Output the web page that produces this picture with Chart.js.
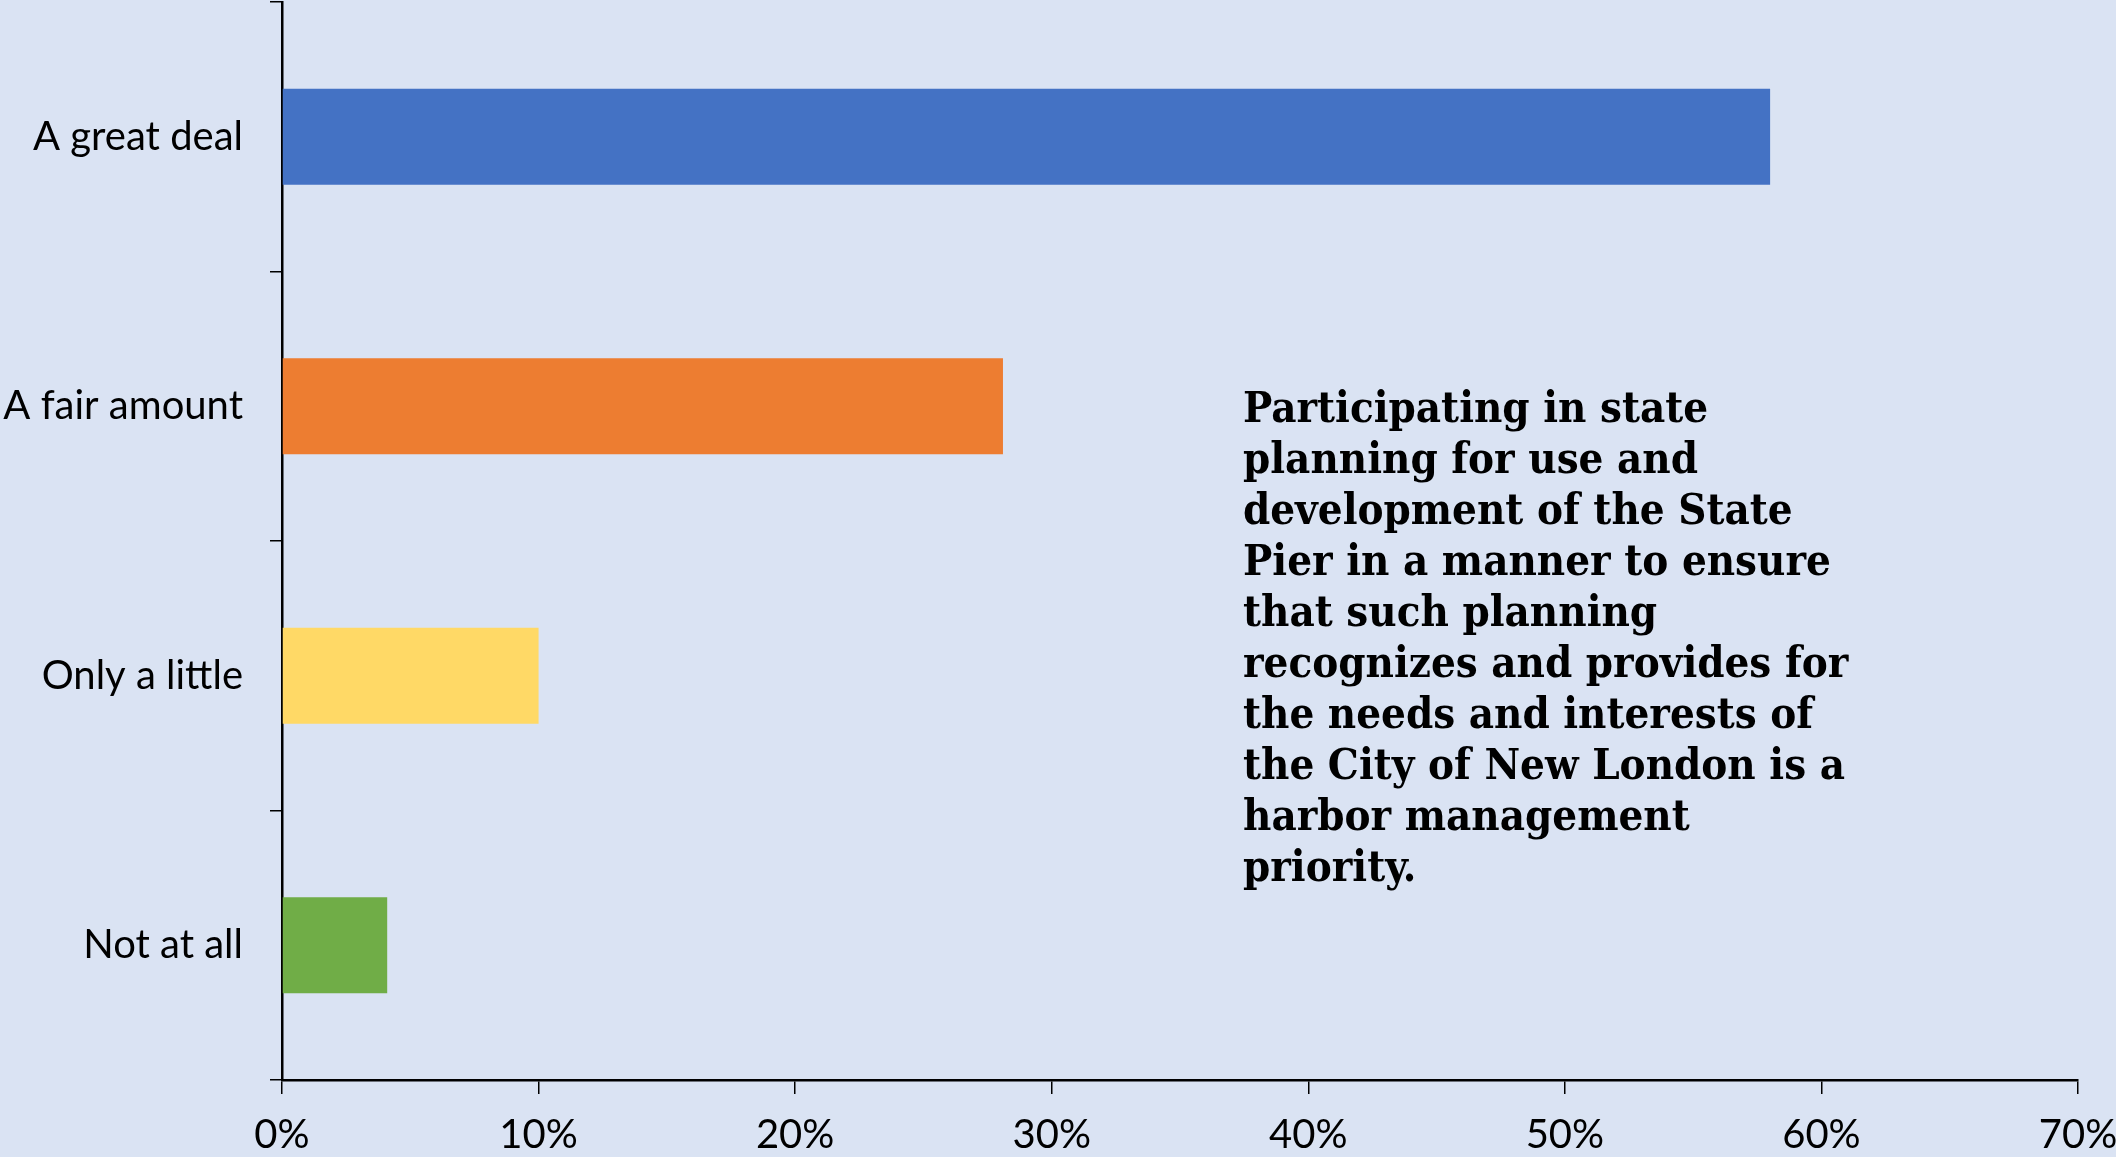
<!DOCTYPE html>
<html>
<head>
<meta charset="utf-8">
<title>Harbor management priority</title>
<script src="https://cdn.jsdelivr.net/npm/chart.js@4/dist/chart.umd.min.js"></script>
<style>
  html, body { margin: 0; padding: 0; background: #DAE3F3; }
  #chart { display: block; }
</style>
</head>
<body>
<canvas id="chart" width="2116" height="1157"></canvas>
<script>
// Survey answers and share of respondents (%)
const categories = ['A great deal', 'A fair amount', 'Only a little', 'Not at all'];
const shares = [58.0, 28.1, 10.0, 4.1];
const barColors = ['#4472C4', '#ED7D31', '#FFD966', '#70AD47'];
const xTicks = [0, 10, 20, 30, 40, 50, 60, 70];

const noteLines = [
    'Participating in state',
    'planning for use and',
    'development of the State',
    'Pier in a manner to ensure',
    'that such planning',
    'recognizes and provides for',
    'the needs and interests of',
    'the City of New London is a',
    'harbor management',
    'priority.'
];

const labelFont = { family: 'Lato, "Open Sans", sans-serif', size: 40 };

/**
 * Draws the bold statement text on the right of the plot
 */
const notePlugin = {
    id: 'note',
    afterDraw(chart) {
        const ctx = chart.ctx;
        const family = '"DejaVu Serif Condensed", "Liberation Serif", serif';
        // size the text so the widest line spans the same width as the original
        ctx.save();
        ctx.font = 'bold 100px ' + family;
        const w = ctx.measureText('recognizes and provides for').width;
        const size = 100 * 606 / w;
        ctx.font = 'bold ' + size.toFixed(1) + 'px ' + family;
        ctx.fillStyle = '#000';
        ctx.textAlign = 'left';
        ctx.textBaseline = 'alphabetic';
        noteLines.forEach(function(line, i) {
            ctx.fillText(line, 1243, 422 + i * 51);
        });
        ctx.restore();
    }
};

document.addEventListener('DOMContentLoaded', function() {
    const ctx = document.getElementById('chart').getContext('2d');
    new Chart(ctx, {
        type: 'bar',
        data: {
            labels: categories,
            datasets: [{
                data: shares,
                backgroundColor: barColors,
                borderWidth: 0,
                barPercentage: 0.356,
                categoryPercentage: 1.0
            }]
        },
        options: {
            indexAxis: 'y',
            responsive: false,
            animation: false,
            layout: { padding: { top: 2, right: 38, left: 0, bottom: 0 } },
            plugins: {
                legend: { display: false },
                tooltip: { enabled: false }
            },
            scales: {
                x: {
                    min: 0,
                    max: 70,
                    afterBuildTicks(scale) {
                        scale.ticks = xTicks.map(v => ({ value: v }));
                    },
                    afterFit(scale) {
                        scale.height = 77;
                        scale.paddingLeft = 0;
                        scale.paddingRight = 0;
                    },
                    border: { display: true, color: '#000', width: 2.5 },
                    grid: {
                        drawOnChartArea: false,
                        drawTicks: true,
                        tickLength: 14,
                        color: '#000',
                        lineWidth: 1.5
                    },
                    ticks: {
                        autoSkip: false,
                        maxRotation: 0,
                        padding: 17,
                        color: '#000',
                        font: labelFont,
                        callback: v => v + '%'
                    }
                },
                y: {
                    afterFit(scale) {
                        scale.width = 282;
                        scale.paddingTop = 0;
                        scale.paddingBottom = 0;
                    },
                    border: { display: true, color: '#000', width: 2.5 },
                    grid: {
                        drawOnChartArea: false,
                        drawTicks: true,
                        tickLength: 12,
                        color: '#000',
                        lineWidth: 1.5
                    },
                    ticks: {
                        padding: 27,
                        color: '#000',
                        font: labelFont
                    }
                }
            }
        },
        plugins: [notePlugin]
    });
});
</script>
</body>
</html>
